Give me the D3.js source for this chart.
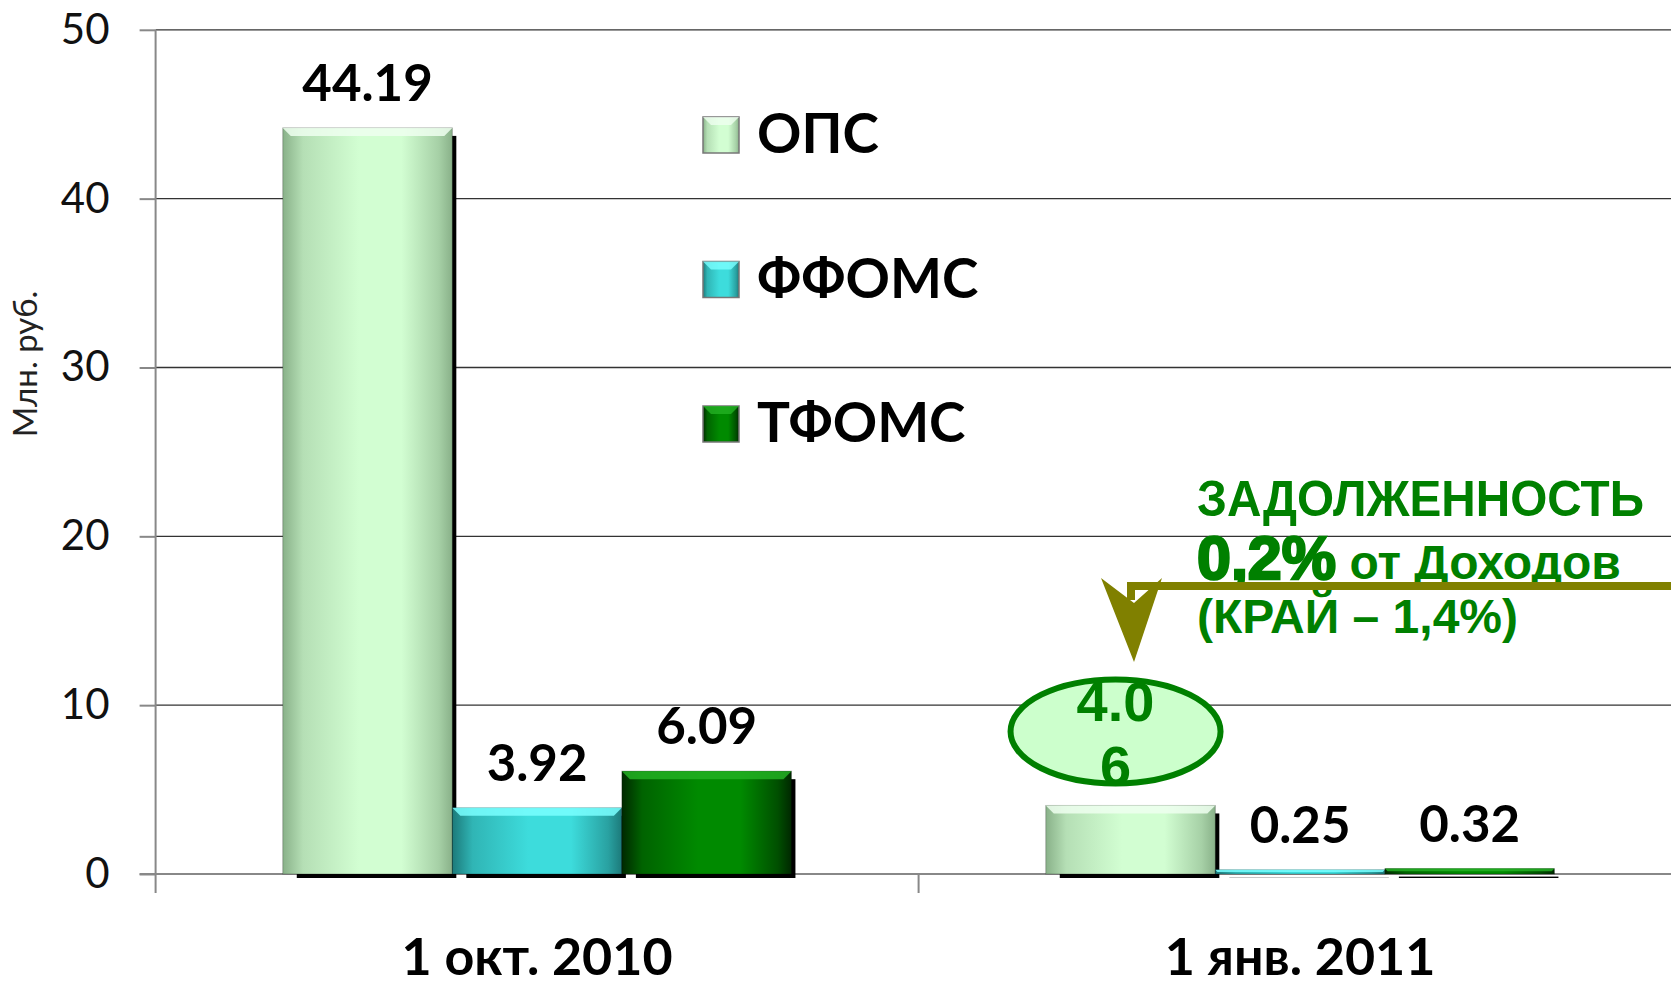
<!DOCTYPE html>
<html>
<head>
<meta charset="utf-8">
<script src="https://cdn.jsdelivr.net/npm/d3@7"></script>
<style>
  body { margin: 0; background: #fff; }
  svg { display: block; }
</style>
</head>
<body>
<div id="chart"></div>
<script>
// data
const categories = ["1 окт. 2010", "1 янв. 2011"];
const seriesNames = ["ОПС", "ФФОМС", "ТФОМС"];
const valuesOPS = [44.19, 4.06];
const valuesFFOMS = [3.92, 0.25];
const valuesTFOMS = [6.09, 0.32];
const yTicks = [0, 10, 20, 30, 40, 50];

const W = 1671, H = 989;
const plot = { left: 155.6, right: 1681.6, top: 29.8, bottom: 874 };

const svg = d3.select("#chart").append("svg")
  .attr("width", W).attr("height", H);

const defs = svg.append("defs");

// colours per series: edge, centre, bevel
const colors = [
  { edge: "#89b189", mid: "#d2fed2", top: "#effff0" },
  { edge: "#1c7a7a", mid: "#3ddcdc", top: "#7affff" },
  { edge: "#002800", mid: "#008a00", top: "#23b023" }
];

colors.forEach((c, i) => {
  const g = defs.append("linearGradient").attr("id", "grad" + i)
    .attr("x1", "0").attr("x2", "1").attr("y1", "0").attr("y2", "0");
  g.append("stop").attr("offset", "0").attr("stop-color", c.edge);
  g.append("stop").attr("offset", "0.12").attr("stop-color", d3.interpolateRgb(c.edge, c.mid)(0.6));
  g.append("stop").attr("offset", "0.45").attr("stop-color", c.mid);
  g.append("stop").attr("offset", "0.7").attr("stop-color", c.mid);
  g.append("stop").attr("offset", "0.92").attr("stop-color", d3.interpolateRgb(c.edge, c.mid)(0.4));
  g.append("stop").attr("offset", "1").attr("stop-color", c.edge);
});

const y = d3.scaleLinear().domain([0, 50]).range([plot.bottom, plot.top]);
const x0 = d3.scaleBand().domain(categories).range([plot.left, plot.right]);
const x1 = d3.scaleBand().domain(seriesNames).range([0, x0.bandwidth()]).paddingOuter(0.75).paddingInner(0);

// gridlines
svg.append("g")
  .selectAll("line").data(yTicks.filter(d => d > 0)).join("line")
  .attr("x1", plot.left).attr("x2", W)
  .attr("y1", d => y(d)).attr("y2", d => y(d))
  .attr("stroke", "#333").attr("stroke-width", 1.3);

// y axis
const yAxis = svg.append("g")
  .attr("transform", `translate(${plot.left},0)`)
  .call(d3.axisLeft(y).tickValues(yTicks).tickSize(16).tickPadding(30));
yAxis.select(".domain").remove();
yAxis.selectAll(".tick line").attr("stroke", "#888").attr("stroke-width", 2);
yAxis.selectAll(".tick text")
  .attr("font-family", "Lato, 'Open Sans', sans-serif")
  .attr("font-size", 42).attr("fill", "#111");

svg.append("line")
  .attr("x1", plot.left).attr("x2", plot.left)
  .attr("y1", plot.top).attr("y2", plot.bottom + 19)
  .attr("stroke", "#888").attr("stroke-width", 2);

// zero line
svg.append("line")
  .attr("x1", plot.left - 16).attr("x2", W)
  .attr("y1", y(0)).attr("y2", y(0))
  .attr("stroke", "#888").attr("stroke-width", 2);

// category ticks
svg.append("g").selectAll("line").data(categories.slice(1)).join("line")
  .attr("x1", d => x0(d)).attr("x2", d => x0(d))
  .attr("y1", y(0)).attr("y2", y(0) + 19)
  .attr("stroke", "#888").attr("stroke-width", 2);

// y title
svg.append("text")
  .attr("transform", `translate(37,${364}) rotate(-90)`)
  .attr("text-anchor", "middle")
  .attr("font-family", "Lato, 'Open Sans', sans-serif")
  .attr("font-size", 33).attr("fill", "#222")
  .text("Млн. руб.");

// bars
const rows = categories.map((c, i) => ({
  cat: c,
  vals: [valuesOPS[i], valuesFFOMS[i], valuesTFOMS[i]]
}));

const bars = [];
rows.forEach(r => r.vals.forEach((v, s) => bars.push({ cat: r.cat, s, v })));

const barG = svg.append("g");
bars.forEach(b => {
  const bx = x0(b.cat) + x1(seriesNames[b.s]);
  const bw = x1.bandwidth();
  const by = y(b.v);
  const bh = y(0) - by;
  const g = barG.append("g");
  // shadow
  g.append("rect")
    .attr("x", bx + 14).attr("y", by + 8)
    .attr("width", bw - 10).attr("height", bh - 4)
    .attr("fill", "#000");
  g.append("rect")
    .attr("x", bx).attr("y", by)
    .attr("width", bw).attr("height", bh)
    .attr("fill", `url(#grad${b.s})`)
    .attr("stroke", "rgba(0,0,0,0.25)").attr("stroke-width", 1);
  const bev = Math.min(8, bh / 2);
  g.append("path")
    .attr("d", `M${bx},${by} L${bx + bw},${by} L${bx + bw - bev},${by + bev} L${bx + bev},${by + bev} Z`)
    .attr("fill", colors[b.s].top).attr("opacity", 0.85);
});

// value labels (black)
svg.append("g").selectAll("text")
  .data(bars.filter(b => !(b.cat === categories[1] && b.s === 0))).join("text")
  .attr("x", b => x0(b.cat) + x1(seriesNames[b.s]) + x1.bandwidth() / 2)
  .attr("y", b => y(b.v) - 27)
  .attr("text-anchor", "middle")
  .attr("font-family", "Lato, 'Open Sans', sans-serif")
  .attr("font-weight", "bold").attr("font-size", 51).attr("fill", "#000")
  .text(b => b.v.toFixed(2));

// highlighted label 4.06 in ellipse
const hb = bars.find(b => b.cat === categories[1] && b.s === 0);
const hx = x0(hb.cat) + x1(seriesNames[0]) + x1.bandwidth() / 2 - 15;
const hy = y(hb.v) - 74;
svg.append("ellipse")
  .attr("cx", hx).attr("cy", hy).attr("rx", 105).attr("ry", 52)
  .attr("fill", "#ccffcc").attr("stroke", "#008000").attr("stroke-width", 6);
const ht = svg.append("text")
  .attr("text-anchor", "middle")
  .attr("font-family", "'Liberation Sans', Arial, sans-serif")
  .attr("font-weight", "bold").attr("font-size", 56).attr("fill", "#008000");
const hs = hb.v.toFixed(2);
ht.append("tspan").attr("x", hx).attr("y", hy - 10).text(hs.slice(0, 3));
ht.append("tspan").attr("x", hx).attr("y", hy + 54).text(hs.slice(3));

// category labels
svg.append("g").selectAll("text").data(categories).join("text")
  .attr("x", d => x0(d) + x0.bandwidth() / 2)
  .attr("y", 975)
  .attr("text-anchor", "middle")
  .attr("font-family", "Lato, 'Open Sans', sans-serif")
  .attr("font-weight", "bold").attr("font-size", 52).attr("fill", "#000")
  .text(d => d);

// legend
const lg = svg.append("g").attr("transform", "translate(703,117)");
seriesNames.forEach((n, i) => {
  const row = lg.append("g").attr("transform", `translate(0,${i * 144.5})`);
  row.append("rect").attr("width", 36).attr("height", 36)
    .attr("fill", `url(#grad${i})`).attr("stroke", "#777").attr("stroke-width", 1.5);
  row.append("path").attr("d", "M0,0 L36,0 L28,8 L8,8 Z")
    .attr("fill", colors[i].top).attr("opacity", 0.8);
  row.append("text").attr("x", 54).attr("y", 36)
    .attr("font-family", "Lato, 'Open Sans', sans-serif")
    .attr("font-weight", "bold").attr("font-size", 55).attr("fill", "#000")
    .text(n);
});

// annotation text
const note = svg.append("g")
  .attr("font-family", "'Liberation Sans', Arial, sans-serif")
  .attr("font-weight", "bold").attr("fill", "#008000");
note.append("text").attr("x", 1197).attr("y", 516).attr("font-size", 50)
  .attr("textLength", 447).attr("lengthAdjust", "spacingAndGlyphs")
  .text("ЗАДОЛЖЕННОСТЬ");
const l2 = note.append("text").attr("x", 1197).attr("y", 579);
l2.append("tspan").attr("font-size", 61).attr("stroke", "#008000").attr("stroke-width", 2.5).text("0,2%");
l2.append("tspan").attr("font-size", 48).text(" от Доходов");
note.append("text").attr("x", 1197).attr("y", 633).attr("font-size", 48)
  .text("(КРАЙ – 1,4%)");

// arrow
svg.append("path")
  .attr("d", "M1671,586 L1131,586 L1131,600")
  .attr("fill", "none").attr("stroke", "#808000").attr("stroke-width", 8);
svg.append("path")
  .attr("d", "M1101,578 L1134,603 L1162,578 L1134,662 Z")
  .attr("fill", "#808000");
</script>
</body>
</html>
